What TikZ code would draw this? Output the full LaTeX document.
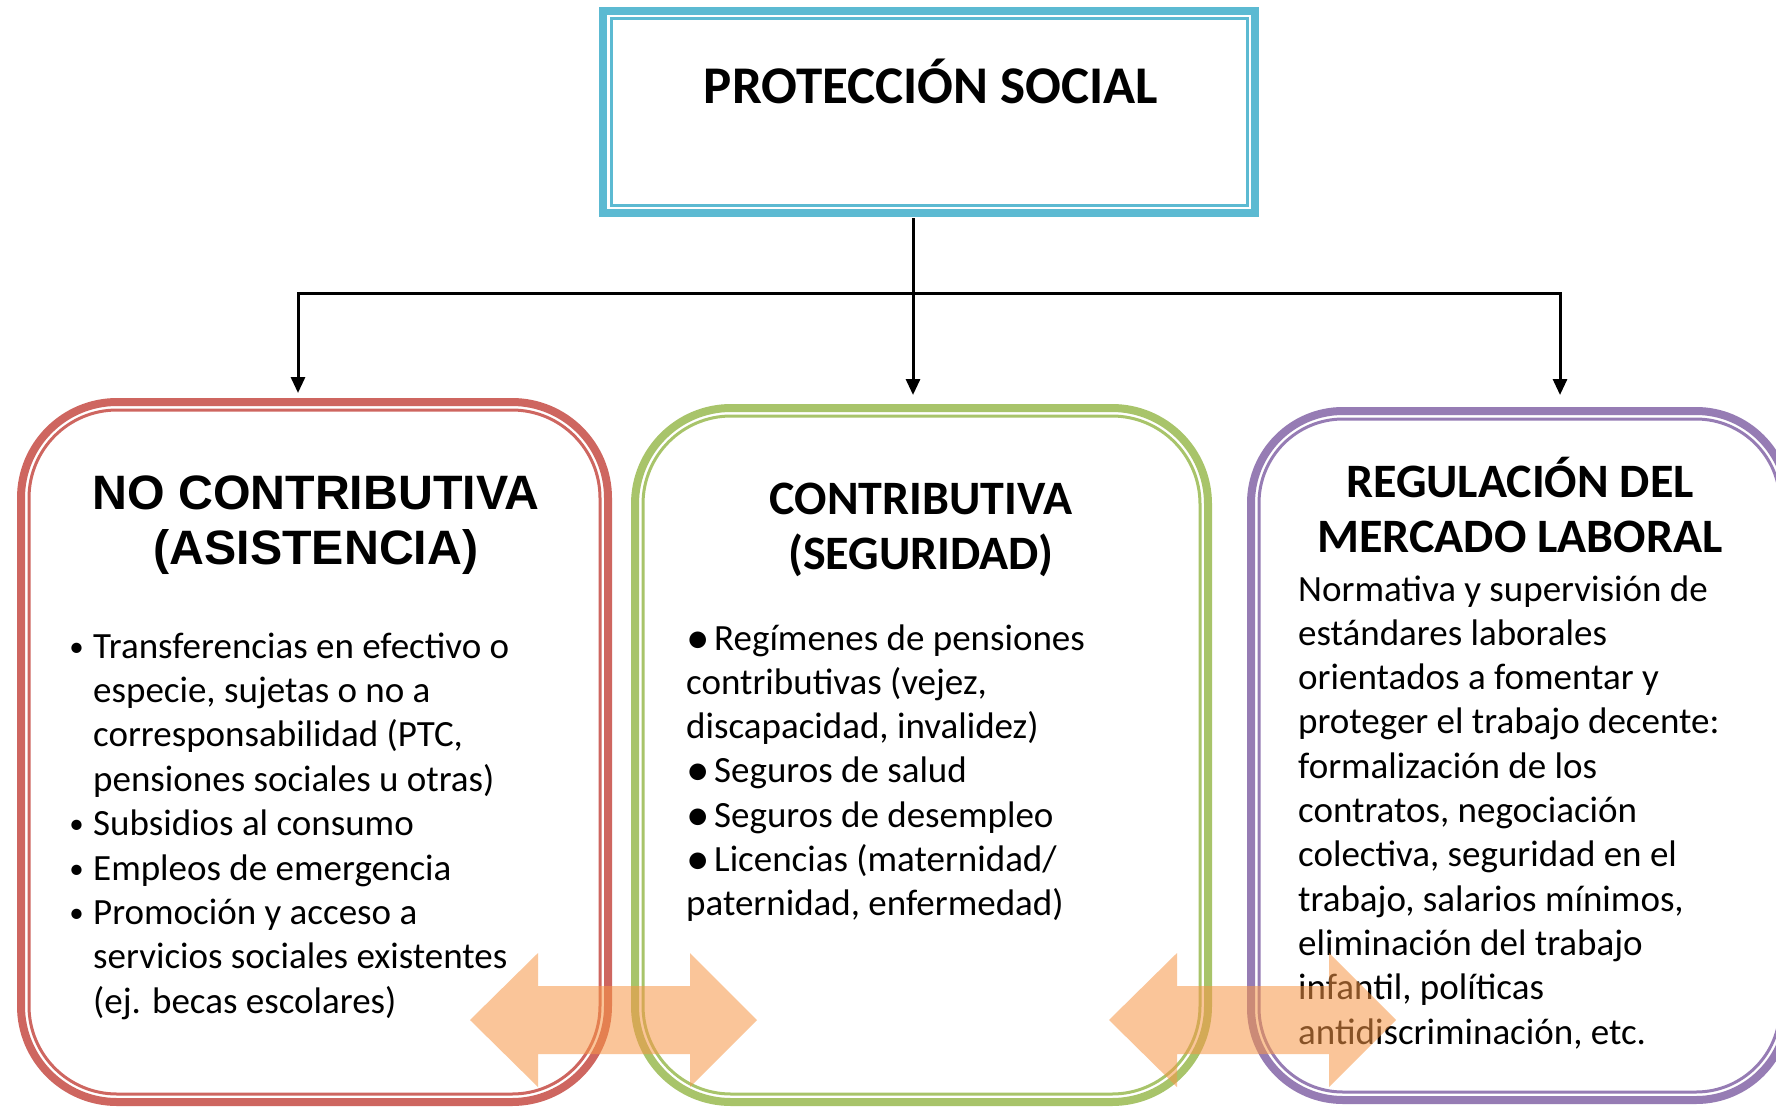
\documentclass[tikz,border=0pt]{standalone}
\usepackage{fontspec}
\setmainfont{Carlito}
\newfontfamily\arialfont{Liberation Sans}
\usetikzlibrary{arrows.meta}
\definecolor{blueC}{RGB}{92,186,210}
\definecolor{redC}{RGB}{206,102,96}
\definecolor{greenC}{RGB}{168,196,106}
\definecolor{purpC}{RGB}{150,124,180}
\definecolor{orangeC}{RGB}{247,150,70}
\newcommand\bodyfont{\fontsize{37pt}{44pt}\selectfont}
\newcommand\ttlfont{\fontsize{48pt}{55pt}\selectfont\bfseries}
\newcommand\bl{\llap{\raisebox{2pt}{\fontsize{29pt}{29pt}\selectfont •}\hspace{9.5pt}}}
\newcommand\bigbl{\makebox[28pt][l]{\raisebox{-3pt}{\fontsize{47pt}{47pt}\selectfont •}}}
\tikzset{
  thickbox/.style={draw=#1, line width=8pt, rectangle, inner sep=0pt, outer sep=0pt, anchor=north west},
  thinline/.style={draw=#1, line width=3pt},
  conn/.style={draw=black, line width=3pt},
  arr/.style={conn, -{Triangle[length=16pt,width=14pt]}},
  bodytxt/.style={anchor=base west, inner sep=0pt, font=\bodyfont},
  ttl/.style={anchor=base, inner sep=0pt, font=\ttlfont},
  band/.style={fill=orangeC, fill opacity=0.55}
}
\begin{document}
\begin{tikzpicture}[x=1pt,y=-1pt]
\useasboundingbox (0,0) rectangle (1776,1108);
\fill[white] (0,0) rectangle (1776,1108);
% top box
\node[thickbox=blueC, minimum width=652pt, minimum height=202pt] (top) at (603,11) {};
\draw[thinline=blueC] ([shift={(8pt,-8pt)}]top.north west) rectangle ([shift={(-8pt,8pt)}]top.south east);
\node[ttl, font=\fontsize{53pt}{60pt}\selectfont\bfseries] (toptitle) at (931,103) {PROTECCIÓN SOCIAL};
% three boxes
\node[thickbox=redC, minimum width=587pt, minimum height=700pt, rounded corners=96pt] (left) at (21,402) {};
\draw[thinline=redC, rounded corners=88pt] ([shift={(8pt,-8pt)}]left.north west) rectangle ([shift={(-8pt,8pt)}]left.south east);
\node[thickbox=greenC, minimum width=573pt, minimum height=694pt, rounded corners=96pt] (mid) at (635,408) {};
\draw[thinline=greenC, rounded corners=88pt] ([shift={(8pt,-8pt)}]mid.north west) rectangle ([shift={(-8pt,8pt)}]mid.south east);
\node[thickbox=purpC, minimum width=537pt, minimum height=689pt, rounded corners=92pt] (right) at (1251,411) {};
\draw[thinline=purpC, rounded corners=84pt] ([shift={(8pt,-8pt)}]right.north west) rectangle ([shift={(-8pt,8pt)}]right.south east);
% titles
\node[ttl, font=\arialfont\fontsize{48.3pt}{55pt}\selectfont\bfseries] (lt1) at (316,509) {NO CONTRIBUTIVA};
\node[ttl, font=\arialfont\fontsize{48.3pt}{55pt}\selectfont\bfseries] (lt2) at (316,564) {(ASISTENCIA)};
\node[ttl] (mt1) at (921,514) {CONTRIBUTIVA};
\node[ttl] (mt2) at (921,569) {(SEGURIDAD)};
\node[ttl] (rt1) at (1520,497) {REGULACIÓN DEL};
\node[ttl] (rt2) at (1520,552) {MERCADO LABORAL};
% left list
\foreach \t [count=\i from 0] in {{\bl Transferencias en efectivo o},{especie, sujetas o no a},{corresponsabilidad (PTC,},{pensiones sociales u otras)},{\bl Subsidios al consumo},{\bl Empleos de emergencia},{\bl Promoción y acceso a},{servicios sociales existentes},{(ej. becas escolares)}}
  \node[bodytxt] (L\i) at (93,{658+44.4*\i}) {\t};
% middle list
\foreach \t [count=\i from 0] in {{\bigbl Regímenes de pensiones},{contributivas (vejez,},{discapacidad, invalidez)},{\bigbl Seguros de salud},{\bigbl Seguros de desempleo},{\bigbl Licencias (maternidad/},{paternidad, enfermedad)}}
  \node[bodytxt] (M\i) at (686,{650+44.3*\i}) {\t};
% right text
\foreach \t [count=\i from 0] in {{Normativa y supervisión de},{estándares laborales},{orientados a fomentar y},{proteger el trabajo decente:},{formalización de los},{contratos, negociación},{colectiva, seguridad en el},{trabajo, salarios mínimos,},{eliminación del trabajo},{infantil, políticas},{antidiscriminación, etc.}}
  \node[bodytxt] (R\i) at (1298,{601+44.3*\i}) {\t};
% connectors
\coordinate (jL) at (298,293);
\coordinate (jM) at (913,293);
\coordinate (jR) at (1560,293);
\draw[arr, shorten >=9pt] (jR) -- (jL) -- (jL |- left.north);
\draw[arr, shorten >=16pt] (jL) -- (jR) -- (jR |- right.north);
\draw[arr, shorten >=13pt] ([yshift=-5pt]top.south -| jM) -- (jM |- mid.north);
% orange double arrows
\fill[band] (470,1020) -- (538,953) -- (538,986) -- (690,986) -- (690,953) -- (757,1020) -- (690,1087) -- (690,1054) -- (538,1054) -- (538,1087) -- cycle;
\fill[band] (1109,1020) -- (1177,953) -- (1177,986) -- (1329,986) -- (1329,953) -- (1396,1020) -- (1329,1087) -- (1329,1054) -- (1177,1054) -- (1177,1087) -- cycle;
\end{tikzpicture}
\end{document}
